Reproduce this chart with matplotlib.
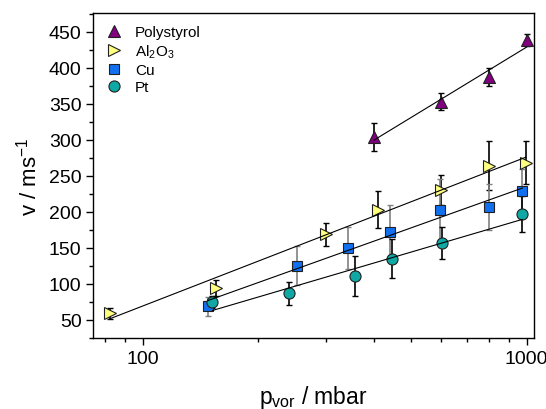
import numpy as np
import matplotlib
matplotlib.use("Agg")
import matplotlib.pyplot as plt
from matplotlib.ticker import FixedLocator, NullFormatter, MultipleLocator

plt.rcParams['font.family'] = ['Liberation Sans', 'DejaVu Sans']
plt.rcParams['mathtext.fontset'] = 'custom'
plt.rcParams['mathtext.rm'] = 'Liberation Sans'

# data
ps_p = [400, 600, 800, 1000]
ps_v = [304, 353, 387, 438]
ps_e = [19, 12, 13, 8.5]

al_p = [82, 155, 300, 410, 600, 800, 995]
al_v = [59, 94, 169, 203, 230, 264, 268]
al_e = [7, 11, 16, 26, 21, 34, 30]

cu_p = [148, 253, 343, 441, 595, 797, 975]
cu_v = [69, 125, 150, 172, 202, 207, 229]
cu_e = [13, 27, 29, 37, 43, 32, 30]

pt_p = [152, 241, 357, 447, 603, 974]
pt_v = [75, 87, 111, 135, 157, 197]
pt_e = [8, 16, 28, 27, 22, 25]

series = [
    ("Polystyrol", ps_p, ps_v, ps_e, '^', '#800080', 'black', 8.5),
    (r"Al$_\mathregular{2}$O$_\mathregular{3}$", al_p, al_v, al_e, '>', '#FFFF80', 'black', 8.5),
    ("Cu", cu_p, cu_v, cu_e, 's', '#1070F0', '#808080', 7),
    ("Pt", pt_p, pt_v, pt_e, 'o', '#10A8A4', 'black', 8),
]

fig = plt.figure(figsize=(5.46, 4.10), dpi=100)
ax = fig.add_axes([0.1709, 0.1732, 0.8071, 0.7927])
ax.set_xscale('log')

handles = []
for label, p, v, e, m, fc, ec, ms in series:
    ax.errorbar(p, v, yerr=e, fmt='none', ecolor=ec, elinewidth=1.2,
                capsize=2.5, capthick=1.0, zorder=2)
    h, = ax.plot(p, v, linestyle='none', marker=m, markersize=ms,
                 markerfacecolor=fc, markeredgecolor='#202020',
                 markeredgewidth=0.8, zorder=3, label=label)
    handles.append(h)
    lp = np.log10(np.array(p, dtype=float))
    k, b = np.polyfit(lp, np.array(v, dtype=float), 1)
    xs = np.array([min(p), max(p)], dtype=float)
    ax.plot(xs, k * np.log10(xs) + b, color='black', linewidth=0.8, zorder=4)

ax.set_xlim(74.4, 1045)
ax.set_ylim(25, 476)

ax.xaxis.set_major_locator(FixedLocator([100, 1000]))
ax.xaxis.set_minor_locator(FixedLocator([80, 90, 200, 300, 400, 500, 600, 700, 800, 900]))
ax.xaxis.set_minor_formatter(NullFormatter())
ax.set_xticklabels(['100', '1000'])
ax.yaxis.set_major_locator(MultipleLocator(50))
ax.yaxis.set_minor_locator(MultipleLocator(25))
ax.set_yticks(np.arange(50, 451, 50))

ax.tick_params(which='major', direction='out', length=5, width=1, labelsize=14,
               top=False, right=False)
ax.tick_params(which='minor', direction='out', length=3, width=1,
               top=False, right=False)
for s in ax.spines.values():
    s.set_linewidth(1.0)

ax.set_xlabel(r'p$_\mathregular{vor}$ / mbar', fontsize=16.5, labelpad=12)
ax.set_ylabel(r'v / ms$^\mathregular{-1}$', fontsize=16, labelpad=5)

ax.legend(handles=handles, loc='upper left', bbox_to_anchor=(0.0064, 0.99),
          frameon=False, fontsize=11, handletextpad=0.75, labelspacing=0.2,
          borderaxespad=0.2, handlelength=1.2)

fig.savefig('out.png', dpi=100)
